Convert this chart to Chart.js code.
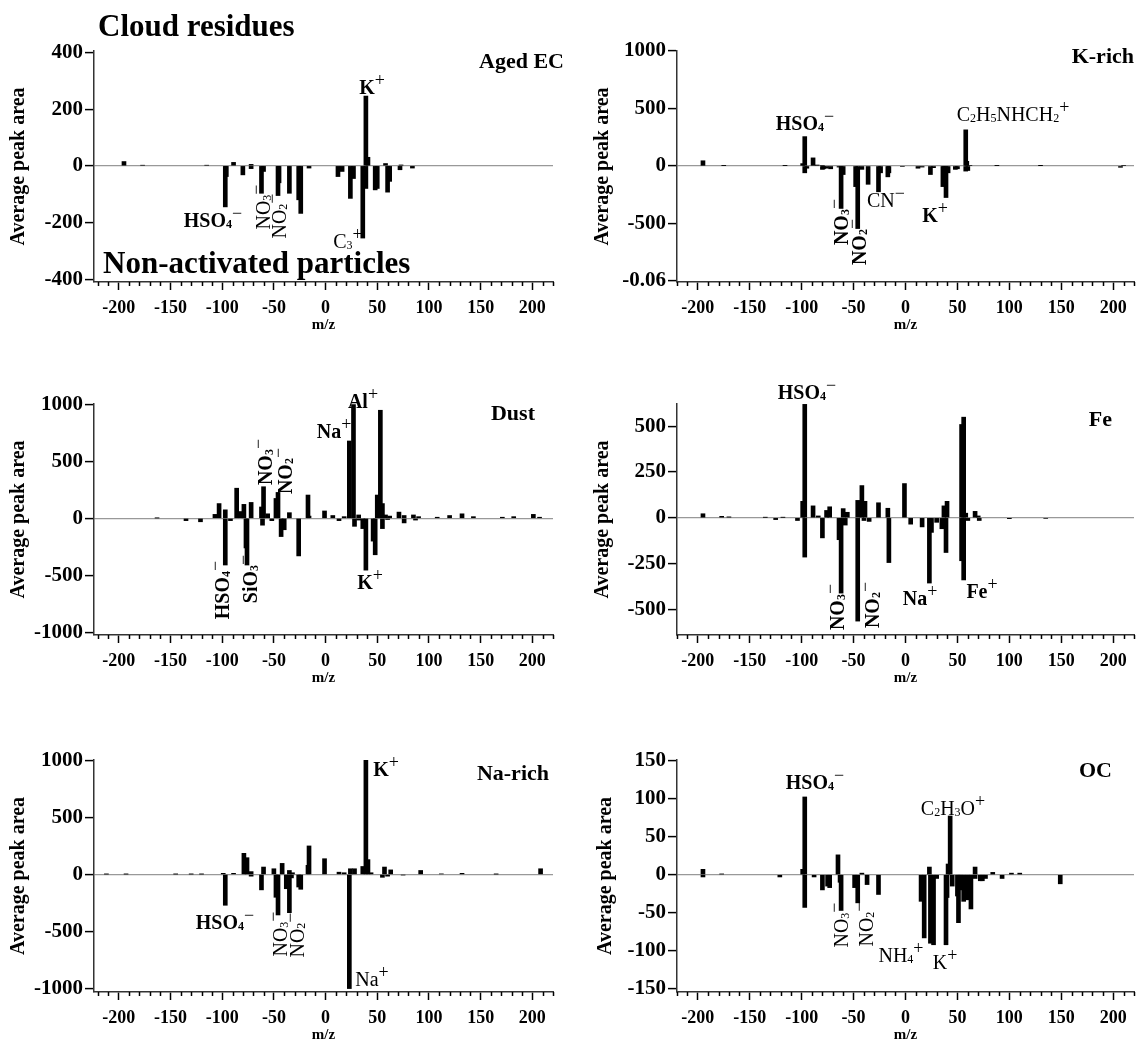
<!DOCTYPE html>
<html>
<head>
<meta charset="utf-8">
<script src="https://cdn.jsdelivr.net/npm/chart.js@4.4.0/dist/chart.umd.min.js"></script>
<style>
  body { margin: 0; background: #fff; }
  #fig { position: relative; width: 1140px; height: 1044px; overflow: hidden;
         font-family: "Liberation Serif", "Times New Roman", serif; color: #000; }
  #fig canvas { position: absolute; }
  .lbl { position: absolute; white-space: nowrap; font-size: 20px; font-weight: bold; line-height: 1;
         transform: translate(-50%, -50%); }
  .lbl.rot { transform: translate(-50%, -50%) rotate(-90deg); }
  .lbl.thin { font-weight: normal; }
  .lbl sub { font-size: 0.6em; vertical-align: -0.1em; }
  .lbl sup { font-size: 0.9em; vertical-align: 0.45em; font-weight: normal; }
  .ttl { position: absolute; font-weight: bold; font-size: 22px; white-space: nowrap; line-height: 1;
         transform: translateY(-50%); }
  .big { position: absolute; font-weight: bold; font-size: 31px; white-space: nowrap; line-height: 1;
         transform: translateY(-50%); }
</style>
</head>
<body>
<div id="fig"></div>
<script>
// m/z axis ticks
const xTicks = [-200, -150, -100, -50, 0, 50, 100, 150, 200];

// Aged EC
const agedEcCloudMz = [-195, -177, -115, -89, -72, 39, 41, 58, 73];
const agedEcCloud = [15, 2, 2, 12, 5, 246, 30, 8, 3];
const agedEcNonMz = [-97, -96, -80, -72, -62, -60, -46, -45, -35, -26, -24, -16, 12, 16, 24, 27, 36, 39, 48, 50, 60, 62, 72, 84];
const agedEcNon = [-145, -38, -32, -10, -97, -20, -105, -60, -97, -120, -168, -8, -38, -20, -115, -45, -255, -80, -85, -80, -93, -55, -14, -8];
const agedEcYTicks = [400, 200, 0, -200, -400];

// K-rich
const kRichCloudMz = [-195, -175, -116, -99, -97, -89, -85, -80, 58, 59, 62, 88, 130, 210];
const kRichCloud = [45, 3, 3, 20, 255, 70, 8, 5, 314, 40, 5, 3, 2, 5];
const kRichNonMz = [-97, -95, -80, -79, -76, -72, -64, -62, -60, -48, -46, -42, -36, -26, -24, -17, -16, -3, 12, 16, 24, 27, 36, 37, 39, 41, 48, 50, 58, 60, 207];
const kRichNon = [-60, -20, -30, -25, -20, -25, -10, -370, -75, -180, -545, -30, -160, -225, -60, -95, -60, -5, -20, -10, -75, -15, -180, -120, -275, -60, -30, -25, -45, -40, -12];
const kRichYTicks = [1000, 500, 0, -500, -1000];
const kRichYLabels = ['1000', '500', '0', '-500', '-0.06'];

// Dust
const dustCloudMz = [-163, -107, -103, -97, -86, -82, -79, -72, -62, -60, -56, -48, -46, -35, -17, -16, -1, 7, 18, 23, 27, 32, 50, 53, 55, 58, 62, 71, 76, 85, 90, 108, 120, 132, 143, 171, 182, 201, 207];
const dustCloud = [3, 35, 130, 75, 265, 60, 123, 140, 100, 278, 40, 175, 228, 50, 205, 20, 65, 25, 15, 680, 1000, 30, 205, 950, 130, 30, 20, 55, 25, 30, 15, 10, 25, 40, 15, 10, 15, 35, 10];
const dustNonMz = [-135, -121, -97, -92, -77, -76, -61, -52, -43, -40, -26, 13, 28, 32, 36, 39, 46, 48, 55, 60, 76, 87];
const dustNon = [-20, -30, -410, -20, -260, -410, -60, -20, -160, -100, -330, -20, -70, -15, -90, -455, -200, -320, -90, -10, -40, -15];
const dustYTicks = [1000, 500, 0, -500, -1000];

// Fe
const feCloudMz = [-195, -177, -170, -135, -118, -99, -97, -89, -84, -76, -73, -60, -56, -46, -42, -39, -26, -17, -1, 37, 40, 54, 56, 58, 67, 70];
const feCloud = [22, 8, 5, 2, 2, 90, 620, 65, 10, 40, 60, 50, 30, 95, 176, 90, 82, 52, 187, 65, 90, 510, 550, 25, 35, 10];
const feNonMz = [-125, -104, -97, -80, -64, -62, -58, -46, -40, -35, -16, 5, 16, 23, 25, 30, 35, 39, 54, 56, 60, 71, 100, 135];
const feNon = [-10, -15, -215, -110, -120, -412, -40, -565, -15, -20, -245, -35, -50, -357, -80, -25, -60, -190, -235, -340, -15, -15, -5, -3];
const feYTicks = [500, 250, 0, -250, -500];

// Na-rich
const naRichCloudMz = [-212, -193, -145, -130, -120, -99, -89, -79, -76, -72, -60, -50, -42, -35, -32, -17, -16, -1, 13, 18, 24, 28, 36, 39, 41, 44, 57, 63, 92, 112, 132, 165, 208];
const naRichCloud = [3, 3, 3, 3, 3, 10, 10, 185, 147, 25, 65, 50, 97, 35, 15, 80, 250, 138, 20, 15, 50, 50, 70, 1000, 130, 15, 65, 40, 35, 5, 10, 3, 50];
const naRichNonMz = [-97, -72, -62, -48, -46, -38, -35, -33, -26, -24, 23, 55, 60, 75];
const naRichNon = [-270, -15, -135, -200, -355, -125, -335, -30, -110, -130, -1000, -25, -15, -5];
const naRichYTicks = [1000, 500, 0, -500, -1000];

// OC
const ocCloudMz = [-195, -177, -99, -97, -65, -42, 23, 41, 43, 67, 84, 102, 110];
const ocCloud = [7, 1, 7, 102, 26, 2, 10, 14, 77, 10, 3, 2, 2];
const ocNonMz = [-195, -121, -97, -88, -80, -75, -73, -63, -62, -49, -46, -37, -26, 15, 18, 24, 27, 30, 39, 40, 45, 50, 51, 53, 56, 60, 63, 67, 72, 74, 77, 93, 149];
const ocNon = [-3, -3, -43, -3, -20, -15, -17, -10, -47, -17, -37, -13, -26, -35, -83, -90, -92, -5, -92, -30, -15, -28, -63, -20, -35, -33, -45, -5, -8, -8, -5, -5, -12];
const ocYTicks = [150, 100, 50, 0, -50, -100, -150];

Chart.defaults.font.family = '"Liberation Serif", "Times New Roman", serif';
Chart.defaults.color = '#000';

// short minor ticks every 10 m/z under the x axis
const minorTicks = {
  id: 'minorTicks',
  afterDraw(chart) {
    const sx = chart.scales.x, ctx = chart.ctx;
    ctx.save();
    ctx.strokeStyle = '#000';
    ctx.lineWidth = 1.5;
    for (let v = -220; v <= 220; v += 10) {
      if (v % 50 === 0 || v < sx.min || v > sx.max) continue;
      const px = Math.round(sx.getPixelForValue(v)) + 0.5;
      ctx.beginPath();
      ctx.moveTo(px, sx.top);
      ctx.lineTo(px, sx.top + 4);
      ctx.stroke();
    }
    ctx.restore();
  }
};

const fig = document.getElementById('fig');

function pts(mz, vals) {
  return mz.map((m, i) => ({ x: m, y: vals[i] }));
}

function panel(p) {
  const cv = document.createElement('canvas');
  cv.width = 570;
  cv.height = p.h;
  cv.style.left = p.left + 'px';
  cv.style.top = p.top + 'px';
  fig.appendChild(cv);
  const labels = p.yLabels || p.yTicks.map(String);
  return new Chart(cv, {
    type: 'bar',
    data: {
      datasets: [
        { label: 'Cloud residues', data: pts(p.cloudMz, p.cloud), backgroundColor: '#000', barThickness: 4, grouped: false },
        { label: 'Non-activated particles', data: pts(p.nonMz, p.non), backgroundColor: '#000', barThickness: 4, grouped: false }
      ]
    },
    options: {
      responsive: false,
      animation: false,
      layout: { padding: { top: p.padTop, right: p.padRight, bottom: p.padBottom, left: 0 } },
      plugins: { legend: { display: false }, tooltip: { enabled: false } },
      scales: {
        x: {
          type: 'linear', min: p.xMin, max: p.xMax, offset: false,
          afterBuildTicks: s => { s.ticks = xTicks.map(v => ({ value: v })); },
          afterFit: s => { s.height = 52; },
          ticks: { font: { size: 18, weight: 'bold' }, padding: 8, maxRotation: 0, autoSkip: false },
          grid: { drawOnChartArea: false, offset: false, tickLength: 8, tickWidth: 1.5, tickColor: '#000' },
          border: { color: '#333', width: 1.5 },
          title: { display: true, text: 'm/z', font: { size: 15, weight: 'bold' }, padding: 0 }
        },
        y: {
          min: p.yMin, max: p.yMax,
          afterBuildTicks: s => { s.ticks = p.yTicks.map(v => ({ value: v })); },
          afterFit: s => { s.width = p.yW; },
          ticks: { font: { size: 21, weight: 'bold' }, padding: 2, autoSkip: false,
                   callback: (v, i) => labels[i] },
          grid: {
            color: c => (c.tick && c.tick.value === 0) ? '#999' : 'rgba(0,0,0,0)',
            lineWidth: 1.2, tickLength: 9, tickWidth: 1.5, tickColor: '#000'
          },
          border: { color: '#333', width: 1.5 },
          title: { display: true, text: 'Average peak area', font: { size: 20, weight: 'bold' },
                   padding: { top: p.titlePad, bottom: 0 } }
        }
      }
    },
    plugins: [minorTicks]
  });
}

const leftCol = { left: 0, yW: 94, padRight: 17, xMin: -224, xMax: 220, titlePad: 7 };
const rightCol = { left: 570, yW: 107, padRight: 6, xMin: -220, xMax: 220, titlePad: 21 };
const row1 = { top: 0, h: 340, padTop: 51, padBottom: 6 };
const row2 = { top: 345, h: 345, padTop: 59, padBottom: 3 };
const row3 = { top: 700, h: 344, padTop: 60, padBottom: 0 };

panel({ ...leftCol, ...row1, yMin: -410, yMax: 405, yTicks: agedEcYTicks,
        cloudMz: agedEcCloudMz, cloud: agedEcCloud, nonMz: agedEcNonMz, non: agedEcNon });
panel({ ...rightCol, ...row1, yMin: -1010, yMax: 1000, yTicks: kRichYTicks, yLabels: kRichYLabels,
        cloudMz: kRichCloudMz, cloud: kRichCloud, nonMz: kRichNonMz, non: kRichNon });
panel({ ...leftCol, ...row2, yMin: -1025, yMax: 1005, yTicks: dustYTicks,
        cloudMz: dustCloudMz, cloud: dustCloud, nonMz: dustNonMz, non: dustNon });
panel({ ...rightCol, ...row2, yMin: -641, yMax: 622, yTicks: feYTicks,
        cloudMz: feCloudMz, cloud: feCloud, nonMz: feNonMz, non: feNon });
panel({ ...leftCol, ...row3, yMin: -1030, yMax: 1003, yTicks: naRichYTicks,
        cloudMz: naRichCloudMz, cloud: naRichCloud, nonMz: naRichNonMz, non: naRichNon });
panel({ ...rightCol, ...row3, yMin: -154, yMax: 150.5, yTicks: ocYTicks, titlePad: 24,
        cloudMz: ocCloudMz, cloud: ocCloud, nonMz: ocNonMz, non: ocNon });

// panel names, right aligned
const titles = [
  ['Aged EC', 564, 61], ['K-rich', 1134, 56], ['Dust', 535, 413],
  ['Fe', 1112, 419], ['Na-rich', 549, 773], ['OC', 1112, 770]
];
titles.forEach(([t, r, cy]) => {
  const d = document.createElement('div');
  d.className = 'ttl';
  d.textContent = t;
  d.style.right = (1140 - r) + 'px';
  d.style.top = cy + 'px';
  fig.appendChild(d);
});

[['Cloud residues', 98, 24.5], ['Non-activated particles', 103, 262]].forEach(([t, l, cy]) => {
  const d = document.createElement('div');
  d.className = 'big';
  d.textContent = t;
  d.style.left = l + 'px';
  d.style.top = cy + 'px';
  fig.appendChild(d);
});

// ion labels: html, centre x, centre y, rotated, bold
const HSO4 = 'HSO<sub>4</sub><sup>−</sup>';
const NO3 = 'NO<sub>3</sub><sup>−</sup>';
const NO2 = 'NO<sub>2</sub><sup>−</sup>';
const notes = [
  ['K<sup>+</sup>', 372, 84, false, true],
  [HSO4, 213, 217, false, true],
  [NO3, 260, 207, true, false],
  [NO2, 276, 216, true, false],
  ['C<sub>3</sub><sup>+</sup>', 348, 238, false, false],

  [HSO4, 805, 120, false, true],
  ['C<sub>2</sub>H<sub>5</sub>NHCH<sub>2</sub><sup>+</sup>', 1013, 111, false, false],
  [NO3, 838, 222, true, true],
  [NO2, 856, 242, true, true],
  ['CN<sup>−</sup>', 886, 197, false, false],
  ['K<sup>+</sup>', 935, 212, false, true],

  ['Al<sup>+</sup>', 363, 398, false, true],
  ['Na<sup>+</sup>', 334, 428, false, true],
  [NO3, 262, 462, true, true],
  [NO2, 282, 471, true, true],
  [HSO4, 219, 590, true, true],
  ['SiO<sub>3</sub><sup>−</sup>', 247, 579, true, true],
  ['K<sup>+</sup>', 370, 579, false, true],

  [HSO4, 807, 389, false, true],
  [NO3, 834, 607, true, true],
  [NO2, 869, 605, true, true],
  ['Na<sup>+</sup>', 920, 595, false, true],
  ['Fe<sup>+</sup>', 982, 588, false, true],

  ['K<sup>+</sup>', 386, 766, false, true],
  [HSO4, 225, 919, false, true],
  [NO3, 277, 934, true, false],
  [NO2, 294, 935, true, false],
  ['Na<sup>+</sup>', 372, 976, false, false],

  [HSO4, 815, 779, false, true],
  ['C<sub>2</sub>H<sub>3</sub>O<sup>+</sup>', 953, 805, false, false],
  [NO3, 838, 925, true, false],
  [NO2, 863, 924, true, false],
  ['NH<sub>4</sub><sup>+</sup>', 901, 952, false, false],
  ['K<sup>+</sup>', 945, 959, false, false]
];
notes.forEach(([h, cx, cy, rot, bold]) => {
  const d = document.createElement('div');
  d.className = 'lbl' + (rot ? ' rot' : '') + (bold ? '' : ' thin');
  d.innerHTML = h;
  d.style.left = cx + 'px';
  d.style.top = cy + 'px';
  fig.appendChild(d);
});
</script>
</body>
</html>
